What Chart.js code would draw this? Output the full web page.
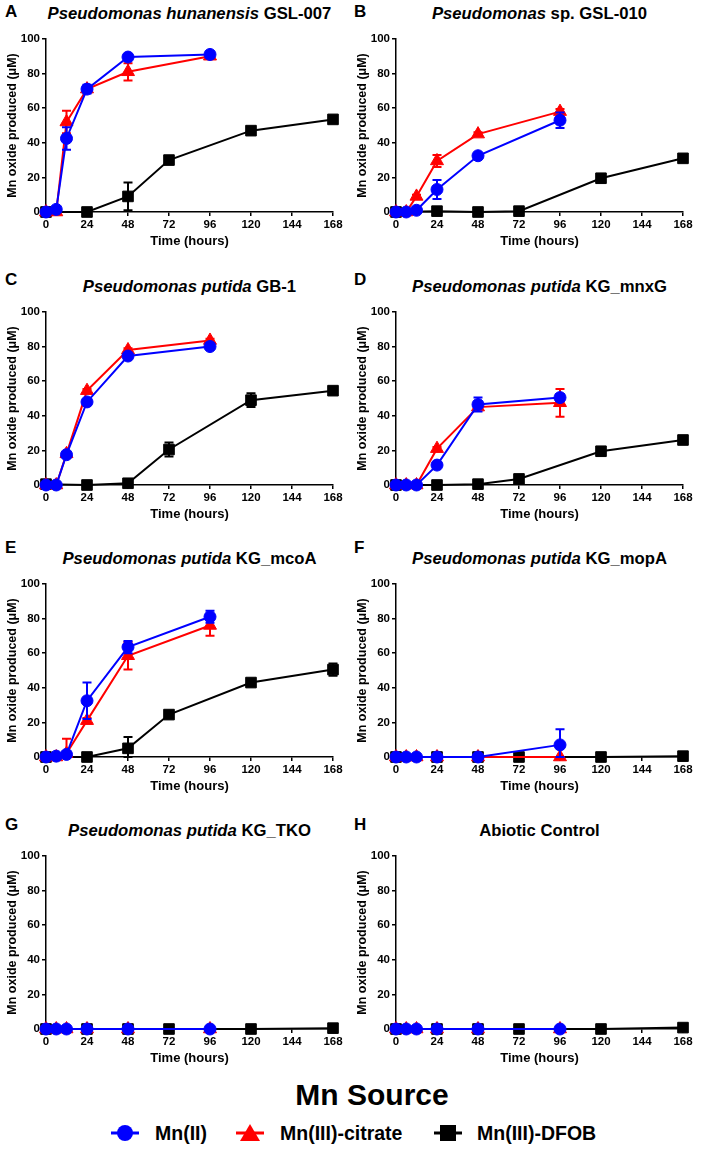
<!DOCTYPE html>
<html>
<head>
 <title>Mn oxide produced over time</title>
 <script src="https://cdn.jsdelivr.net/npm/chart.js"></script>
 <style>
  body { margin: 0; background: #fff; font-family: "Liberation Sans", Arial, sans-serif; color: #000; }
  #page { position: relative; width: 708px; height: 1156px; overflow: hidden; }
  .panel { position: absolute; }
  .title { position: absolute; font-size: 16.7px; font-weight: bold; white-space: nowrap; transform: translate(-50%, -50%); }
  .letter { position: absolute; font-size: 17px; font-weight: bold; transform: translateY(-50%); }
  #legendTitle { position: absolute; left: 372px; top: 1095px; transform: translate(-50%, -50%); font-size: 30px; font-weight: bold; white-space: nowrap; }
  .lg-text { position: absolute; top: 1133px; transform: translateY(-50%); font-size: 19.5px; font-weight: bold; white-space: nowrap; }
  .lg-icon { position: absolute; top: 1123px; }
 </style>
</head>
<body>
<div id="page"></div>

<script>
 // time points (hours)
 const tMn = [0, 6, 12, 24, 48, 96];        // Mn(II) and Mn(III)-citrate
 const tDfob = [0, 24, 48, 72, 120, 168];   // Mn(III)-DFOB
 const xTicks = [0, 24, 48, 72, 96, 120, 144, 168];
 const yTicks = [0, 20, 40, 60, 80, 100];

 const panelLetters = ['A', 'B', 'C', 'D', 'E', 'F', 'G', 'H'];
 const panelSpecies = ['Pseudomonas hunanensis', 'Pseudomonas', 'Pseudomonas putida', 'Pseudomonas putida',
                       'Pseudomonas putida', 'Pseudomonas putida', 'Pseudomonas putida', ''];
 const panelStrains = ['GSL-007', 'sp. GSL-010', 'GB-1', 'KG_mnxG', 'KG_mcoA', 'KG_mopA', 'KG_TKO', 'Abiotic Control'];

 // Mn(II), one row per panel A..H
 const mnII = [
  [0, 1.5, 42.5, 71, 89.5, 91],
  [0, 0, 1, 13, 32.5, 53],
  [0, 0, 17.5, 48, 74.5, 80],
  [0, 0, 0, 11.5, 46.5, 50.5],
  [0, 0.5, 1.5, 32.5, 63.5, 81],
  [0, 0, 0, 0, 0, 7],
  [0, 0, 0, 0, 0, 0],
  [0, 0, 0, 0, 0, 0]
 ];
 const mnIIErr = [
  [0, 0, 6.5, 2.5, 1, 1],
  [0, 0, 0, 5.5, 1, 4.5],
  [0, 0, 1, 1.5, 1.5, 1],
  [0, 0, 0, 1, 4, 2],
  [0, 0, 0, 10.5, 3.5, 3.5],
  [0, 0, 0, 0, 0, 9],
  [0, 0, 0, 0, 0, 0],
  [0, 0, 0, 0, 0, 0]
 ];

 // Mn(III)-citrate
 const citrate = [
  [0, 0, 52, 71, 81, 90],
  [0, 0, 9, 29.5, 45, 58],
  [0, 0, 18, 54.5, 78, 83.5],
  [0, 0, 0, 21, 45, 47.5],
  [0, 0, 2, 21, 58.5, 76],
  [0, 0, 0, 0, 0, 0],
  [0, 0, 0, 0, 0, 0],
  [0, 0, 0, 0, 0, 0]
 ];
 const citrateErr = [
  [0, 0, 6.5, 2, 5, 1],
  [0, 0, 1, 3.5, 1, 1.5],
  [0, 0, 1, 1, 1, 1],
  [0, 0, 0, 1, 1, 8],
  [0, 0, 8.5, 1.5, 8, 6],
  [0, 0, 0, 0, 0, 0],
  [0, 0, 0, 0, 0, 0],
  [0, 0, 0, 0, 0, 0]
 ];

 // Mn(III)-DFOB
 const dfob = [
  [0, 0, 9, 30, 47, 53.5],
  [0, 0.5, 0, 0.5, 19.5, 31],
  [0.5, 0, 1, 20.5, 49, 54.5],
  [0, 0, 0.5, 3.5, 19.5, 26],
  [0, 0, 5, 24.5, 43, 50.5],
  [0, 0, 0, 0, 0, 0.5],
  [0, 0, 0, 0, 0, 0.5],
  [0, 0, 0, 0, 0, 0.8]
 ];
 const dfobErr = [
  [0, 0, 8, 1, 1, 1],
  [0, 0, 0, 0, 1, 1],
  [0, 0, 0, 4, 4, 2],
  [0, 0, 0, 0, 1, 2],
  [0, 0, 6.5, 1, 1, 3.5],
  [0, 0, 0, 0, 0, 0],
  [0, 0, 0, 0, 0, 0],
  [0, 0, 0, 0, 0, 0]
 ];

 const BLUE = '#0000ff', RED = '#ff0000', BLACK = '#000000';
 const FONT = '"Liberation Sans", Arial, sans-serif';
 Chart.defaults.font.family = FONT;
 Chart.defaults.color = '#000';

 // error bars drawn just before each dataset so markers sit on top
 const errorBars = {
  id: 'errorBars',
  beforeDatasetDraw(chart, args) {
   const ds = chart.data.datasets[args.index];
   if (!ds.errors) return;
   const ys = chart.scales.y;
   const ctx = chart.ctx;
   ctx.save();
   ctx.strokeStyle = ds.borderColor;
   ctx.lineWidth = 2;
   args.meta.data.forEach((pt, i) => {
    const e = ds.errors[i];
    if (!e) return;
    const v = ds.data[i].y;
    const top = ys.getPixelForValue(v + e);
    const bot = ys.getPixelForValue(Math.max(0, v - e));
    ctx.beginPath();
    ctx.moveTo(pt.x, top); ctx.lineTo(pt.x, bot);
    ctx.moveTo(pt.x - 4.5, top); ctx.lineTo(pt.x + 4.5, top);
    ctx.moveTo(pt.x - 4.5, bot); ctx.lineTo(pt.x + 4.5, bot);
    ctx.stroke();
   });
   ctx.restore();
  }
 };

 const page = document.getElementById('page');
 const rowTop = [38, 311, 583, 855];       // pixel y of the 100 tick in each row
 const letterY = [12, 280, 548, 825];

 function series(label, times, vals, errs, color, shape, radius) {
  return {
   label: label,
   data: times.map((t, i) => ({ x: t, y: vals[i] })),
   errors: errs,
   borderColor: color,
   backgroundColor: color,
   borderWidth: 2,
   pointStyle: shape,
   pointRadius: radius,
   pointBorderWidth: 1,
   pointHoverRadius: radius,
   clip: false,
   tension: 0
  };
 }

 for (let p = 0; p < 8; p++) {
  const col = p % 2, row = Math.floor(p / 2);
  const left = col * 354;
  const top = rowTop[row] - 8;
  const plotLeft = col === 0 ? 46 : 42;      // offset of y axis within the canvas
  const plotRight = col === 0 ? 333 : 329;

  const canvas = document.createElement('canvas');
  canvas.className = 'panel';
  canvas.width = 354; canvas.height = 222;
  canvas.style.left = left + 'px';
  canvas.style.top = top + 'px';
  page.appendChild(canvas);

  const letter = document.createElement('div');
  letter.className = 'letter';
  letter.textContent = panelLetters[p];
  letter.style.left = (col === 0 ? 5 : 354) + 'px';
  letter.style.top = letterY[row] + 'px';
  page.appendChild(letter);

  const title = document.createElement('div');
  title.className = 'title';
  if (panelSpecies[p]) {
   const it = document.createElement('i');
   it.textContent = panelSpecies[p];
   title.appendChild(it);
   title.appendChild(document.createTextNode(' ' + panelStrains[p]));
  } else {
   title.textContent = panelStrains[p];
  }
  title.style.left = (left + (plotLeft + plotRight) / 2) + 'px';
  title.style.top = (rowTop[row] - 24.5) + 'px';
  page.appendChild(title);

  new Chart(canvas.getContext('2d'), {
   type: 'line',
   data: {
    datasets: [
     series('Mn(II)', tMn, mnII[p], mnIIErr[p], BLUE, 'circle', 6),
     series('Mn(III)-citrate', tMn, citrate[p], citrateErr[p], RED, 'triangle', 7.5),
     series('Mn(III)-DFOB', tDfob, dfob[p], dfobErr[p], BLACK, 'rect', 7.5)
    ]
   },
   options: {
    responsive: false,
    animation: false,
    events: [],
    layout: { padding: { top: 8, bottom: 0, left: col === 0 ? 5 : 1, right: 354 - plotRight } },
    plugins: { legend: { display: false }, tooltip: { enabled: false } },
    scales: {
     x: {
      type: 'linear', min: 0, max: 168,
      afterBuildTicks: s => { s.ticks = xTicks.map(v => ({ value: v })); },
      afterFit: s => { s.height = 40; },
      grid: { drawOnChartArea: false, tickLength: 4, color: '#000', lineWidth: 1.5 },
      border: { color: '#000', width: 1.5 },
      ticks: { font: { size: 11.5, weight: 'bold' }, padding: 2, maxRotation: 0, autoSkip: false },
      title: { display: true, text: 'Time (hours)', font: { size: 13, weight: 'bold' }, padding: { top: 0, bottom: 3 } }
     },
     y: {
      min: 0, max: 100,
      afterBuildTicks: s => { s.ticks = yTicks.map(v => ({ value: v })); },
      afterFit: s => { s.width = 41; },
      grid: { drawOnChartArea: false, tickLength: 4, color: '#000', lineWidth: 1.5 },
      border: { color: '#000', width: 1.5 },
      ticks: { font: { size: 11.5, weight: 'bold' }, padding: 2 },
      title: { display: true, text: 'Mn oxide produced (\u03bcM)', font: { size: 12.5, weight: 'bold' }, padding: { top: 0, bottom: 0 } }
     }
    }
   },
   plugins: [errorBars]
  });
 }

 // legend
 const lt = document.createElement('div');
 lt.id = 'legendTitle';
 lt.textContent = 'Mn Source';
 page.appendChild(lt);

 const legendItems = [
  { label: 'Mn(II)', color: BLUE, shape: 'circle', iconX: 111, textX: 155 },
  { label: 'Mn(III)-citrate', color: RED, shape: 'triangle', iconX: 236, textX: 280 },
  { label: 'Mn(III)-DFOB', color: BLACK, shape: 'rect', iconX: 434, textX: 477 }
 ];
 legendItems.forEach(item => {
  const c = document.createElement('canvas');
  c.className = 'lg-icon';
  c.width = 28; c.height = 20;
  c.style.left = item.iconX + 'px';
  page.appendChild(c);
  const g = c.getContext('2d');
  g.fillStyle = item.color; g.strokeStyle = item.color;
  g.lineWidth = 3;
  g.beginPath(); g.moveTo(0, 10); g.lineTo(28, 10); g.stroke();
  g.beginPath();
  if (item.shape === 'circle') g.arc(14, 10, 8, 0, Math.PI * 2);
  else if (item.shape === 'triangle') { g.moveTo(14, 1); g.lineTo(24, 18); g.lineTo(4, 18); g.closePath(); }
  else g.rect(6, 2, 16, 16);
  g.fill();

  const t = document.createElement('div');
  t.className = 'lg-text';
  t.textContent = item.label;
  t.style.left = item.textX + 'px';
  page.appendChild(t);
 });
</script>
</body>
</html>
